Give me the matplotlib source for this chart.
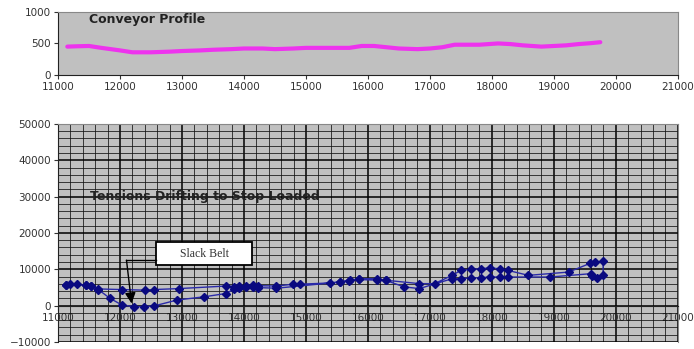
import matplotlib
matplotlib.use("Agg")
import matplotlib.pyplot as plt
from matplotlib.patches import Rectangle
from matplotlib.ticker import MultipleLocator

# --- Conveyor profile (top) ---
profile_x = [11150, 11300, 11500, 11700, 12000, 12200, 12500, 12800, 13000, 13300, 13500,
             13800, 14000, 14300, 14500, 14800, 15000, 15300, 15500, 15700, 15900, 16100,
             16300, 16500, 16800, 17000, 17200, 17400, 17600, 17800, 18100, 18300, 18500,
             18800, 19000, 19200, 19400, 19600, 19750]
profile_y = [450, 455, 460, 430, 390, 360, 360, 370, 380, 390, 400,
             410, 420, 420, 410, 420, 430, 430, 430, 430, 460, 460,
             440, 420, 410, 420, 440, 480, 480, 480, 500, 490, 470,
             450, 460, 470, 490, 505, 520]

# --- Tensions drifting to stop, loaded (bottom), one looped series ---
tension_x = [11135, 11200, 11300, 11450, 11540, 11650, 12030, 12410, 12545, 12950,
             13710, 13845, 13925, 14035, 14145, 14225, 14525, 14795, 14900, 15390,
             15550, 15715, 15850, 16150, 16285, 16830, 17075, 17360, 17500, 17665,
             17825, 17965, 18125, 18260, 18590, 19240, 19590, 19670, 19795, 19795,
             19700, 19620, 19600, 18940, 18260, 18125, 17965, 17825, 17665, 17500,
             17360, 16830, 16585, 16285, 16150, 15850, 15700, 15550, 14525, 14225,
             14145, 14035, 13925, 13845, 13710, 13360, 12920, 12545, 12380, 12220,
             12030, 11840, 11650, 11540, 11450, 11135]
tension_y = [5800, 5900, 5900, 5700, 5400, 4600, 4430, 4260, 4430, 4700,
             5400, 5200, 5300, 5500, 5650, 5500, 5400, 5900, 5900, 6250,
             6520, 6980, 7420, 7420, 7000, 6060, 6060, 8340, 9700, 9970,
             10140, 10400, 10140, 9700, 8340, 9240, 11680, 11950, 12220, 8300,
             7700, 8200, 8800, 7880, 7880, 7880, 7880, 7700, 7600, 7420,
             7420, 4700, 5160, 6980, 7000, 7200, 6900, 6500, 4800, 4970,
             5200, 5000, 4900, 4600, 3340, 2450, 1550, -100, -270, -270,
             200, 2000, 4430, 5350, 5700, 5800]

BG = "#c0c0c0"
LABEL = "#333333"

fig = plt.figure(figsize=(6.94, 3.49), dpi=100)

# top panel
ax1 = fig.add_axes([0.0836, 0.785, 0.893, 0.181])
ax1.set_facecolor(BG)
ax1.plot(profile_x, profile_y, color="#ee33ee", lw=3, solid_capstyle="round")
ax1.set_xlim(11000, 21000)
ax1.set_ylim(0, 1000)
ax1.set_xticks(range(11000, 21001, 1000))
ax1.set_yticks([0, 500, 1000])
ax1.tick_params(labelsize=7.5, colors=LABEL, length=3, width=0.8, pad=2)
for s in ["top", "right"]:
    ax1.spines[s].set_color("#888888")
for s in ["left", "bottom"]:
    ax1.spines[s].set_color("#222222")
ax1.text(11500, 880, "Conveyor Profile", fontsize=9, fontweight="bold",
         color="#222222", va="center", ha="left")

# bottom panel
ax2 = fig.add_axes([0.0836, 0.020, 0.893, 0.625])
ax2.set_facecolor(BG)
ax2.set_xlim(11000, 21000)
ax2.set_ylim(-10000, 50000)
ax2.xaxis.set_major_locator(MultipleLocator(1000))
ax2.xaxis.set_minor_locator(MultipleLocator(200))
ax2.yaxis.set_major_locator(MultipleLocator(10000))
ax2.yaxis.set_minor_locator(MultipleLocator(2000))
ax2.grid(which="major", color="black", lw=1.1)
ax2.grid(which="minor", color="#111111", lw=0.55)
ax2.set_axisbelow(True)
ax2.spines["bottom"].set_position(("data", 0))
ax2.spines["bottom"].set_color("#222222")
ax2.spines["left"].set_color("#222222")
for s in ["top", "right"]:
    ax2.spines[s].set_color("#888888")
ax2.tick_params(which="major", labelsize=7.5, colors=LABEL, length=3, width=0.8, pad=2)
ax2.tick_params(which="minor", length=0)

ax2.plot(tension_x, tension_y, color="#2a2aa8", lw=1, marker="D", ms=4.5,
         mfc="#0a0a80", mec="#0a0a80", zorder=3)

ax2.text(11520, 30000, "Tensions Drifting to Stop Loaded", fontsize=9,
         fontweight="bold", color="#222222", va="center", ha="left")

# slack belt callout
ax2.add_patch(Rectangle((12577, 11140), 1560, 6260, facecolor="white",
                        edgecolor="black", lw=1.3, zorder=4))
ax2.text(13357, 14270, "Slack Belt", fontsize=8.5, family="Liberation Serif",
         color="#333333", ha="center", va="center", zorder=5)
ax2.plot([12577, 12105], [12500, 12500], color="black", lw=1, zorder=4)
ax2.annotate("", xy=(12187, 600), xytext=(12105, 12500),
             arrowprops=dict(arrowstyle="-|>", color="black", lw=1,
                             mutation_scale=16, shrinkA=0, shrinkB=0), zorder=4)

fig.savefig("out.png", dpi=100)
